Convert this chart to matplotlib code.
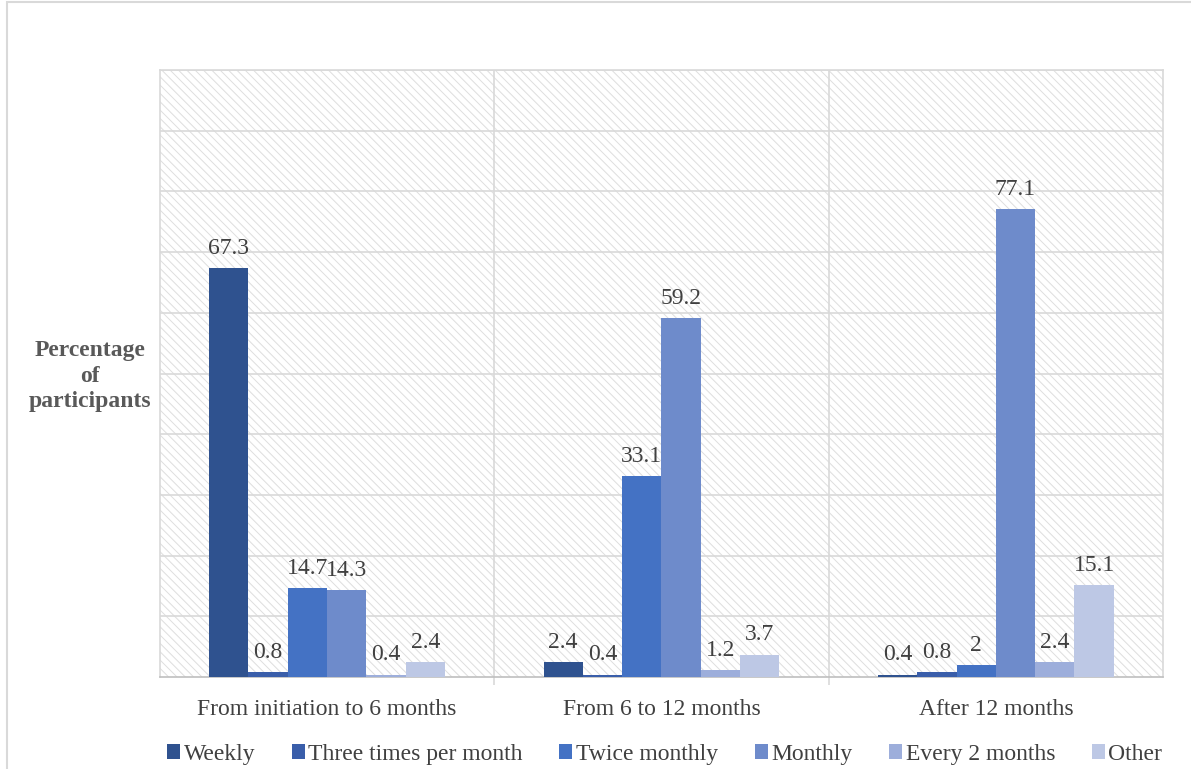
import numpy as np
import matplotlib.pyplot as plt
from matplotlib.patches import Rectangle

plt.rcParams['font.family'] = ['Liberation Serif', 'DejaVu Serif']
plt.rcParams['hatch.linewidth'] = 0.7

# data
periods = ['From initiation to 6 months', 'From 6 to 12 months', 'After 12 months']
frequencies = ['Weekly', 'Three times per month', 'Twice monthly', 'Monthly', 'Every 2 months', 'Other']
weekly = [67.3, 2.4, 0.4]
three_times = [0.8, 0.4, 0.8]
twice_monthly = [14.7, 33.1, 2]
monthly = [14.3, 59.2, 77.1]
every_2_months = [0.4, 1.2, 2.4]
other = [2.4, 3.7, 15.1]
series = [weekly, three_times, twice_monthly, monthly, every_2_months, other]

colors = ['#2F528F', '#3A5EAA', '#4472C4', '#6E8BCB', '#9DAEDB', '#BDC8E5']
text_col = '#404040'
grid_col = '#D9D9D9'

fig = plt.figure(figsize=(11.91, 7.69), dpi=100)
ax = fig.add_axes([0.1343, 0.1196, 0.8422, 0.7894])

# hatched plot background
ax.add_patch(Rectangle((0, 0), 1, 1, transform=ax.transAxes, facecolor='white',
                       edgecolor='#DEDEDE', hatch='\\\\\\\\', linewidth=0, zorder=0))

x = np.arange(len(periods))
w = 0.1176
for i, (vals, name) in enumerate(zip(series, frequencies)):
    pos = x + (i - 2.5) * w
    bars = ax.bar(pos, vals, width=w, color=colors[i], label=name, zorder=3)
    for b, v in zip(bars, vals):
        ax.text(b.get_x() + b.get_width() / 2, v + 1.5, f'{v:g}', ha='center', va='bottom',
                fontsize=17, color=text_col, zorder=4)

ax.set_xlim(-0.5, 2.5)
ax.set_ylim(0, 100)
ax.set_yticks(np.arange(10, 101, 10))
ax.set_yticklabels([])
ax.tick_params(axis='y', length=0)
ax.yaxis.grid(True, color=grid_col, linewidth=1.2, zorder=1)

ax.set_xticks(x)
ax.set_xticklabels(periods, fontsize=17, color=text_col)
ax.tick_params(axis='x', length=0, pad=16)
ax.set_xticks([0.5, 1.5], minor=True)
ax.tick_params(axis='x', which='minor', length=6, color=grid_col, width=1.2)
for b in [0.5, 1.5]:
    ax.axvline(b, color=grid_col, linewidth=1.2, zorder=1)

for s in ['left', 'right', 'top']:
    ax.spines[s].set_color(grid_col)
    ax.spines[s].set_linewidth(1.2)
ax.spines['bottom'].set_color('#BFBFBF')
ax.spines['bottom'].set_linewidth(1.2)

fig.text(0.0756, 0.511, 'Percentage\nof\nparticipants', ha='center', va='center',
         fontsize=17, fontweight='bold', color='#595959', linespacing=1.3)

fig.legend(loc='center', bbox_to_anchor=(0.558, 0.019), ncol=6, frameon=False,
           fontsize=17, handlelength=0.55, handleheight=0.55, handletextpad=0.15,
           columnspacing=1.55, labelcolor=text_col)

# outer chart border
fig.add_artist(Rectangle((0.006, -0.01), 1.0, 1.008, transform=fig.transFigure,
                         fill=False, edgecolor=grid_col, linewidth=1.5))

fig.savefig('out.png', dpi=100)
